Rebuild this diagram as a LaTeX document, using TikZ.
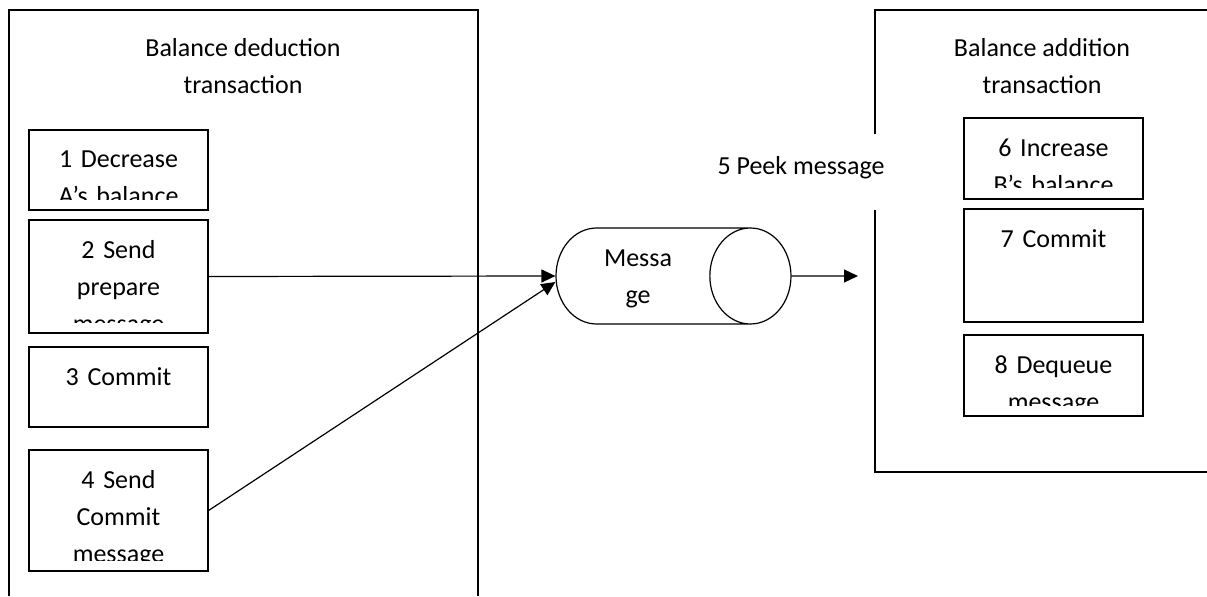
\documentclass[tikz,border=0pt]{standalone}
\usepackage{fontspec}
\setmainfont{Carlito}
\usetikzlibrary{
  shapes.geometric,
  arrows.meta,
  positioning
}
\tikzset{
  txtfont/.style={font=\fontsize{13}{18.5}\selectfont},
  frame/.style={line width=0.6pt},
  stepbox/.style={rectangle,draw,line width=0.6pt,minimum width=89.5pt,inner sep=0pt},
  steptext/.style={txtfont,text width=86pt,align=center,anchor=north,inner sep=0pt,
    minimum width=0pt,minimum height=0pt,draw=none},
  titletext/.style={txtfont,align=center,anchor=north,inner sep=0pt},
  queuenode/.style={cylinder,draw,line width=0.6pt,aspect=1.38,minimum height=117.5pt,
    minimum width=48pt,inner sep=0pt,text height=8.4pt,text depth=21pt},
  arr/.style={-{Triangle[length=7pt,width=6.5pt]},line width=0.6pt}
}

\begin{document}
\begin{tikzpicture}[x=0.5pt,y=0.5pt]
  \useasboundingbox (0,0) rectangle (1207,596);

  % Transaction frames (cut off at the page edge)
  \draw[frame] (9,0) -- (9,586) -- (478,586) -- (478,0);
  \draw[frame] (1207,586) -- (875,586) -- (875,124) -- (1207,124);
  \node[titletext] (dedtitle) at (243,557.7) {Balance deduction\\transaction};
  \node[titletext] (addtitle) at (1042,557.7) {Balance addition\\transaction};

  % Steps, text clipped to the box
  \foreach \nm/\xc/\yc/\hgt/\txt in {
    dec/118.5/426/80/{1 Decrease\\A’s balance},
    send/118.5/319.5/113/{2 Send\\prepare\\message},
    commita/118.5/209/80/{3 Commit},
    sendc/118.5/85.5/121/{4 Send\\Commit\\message},
    inc/1053.5/437.5/81/{6 Increase\\B’s balance},
    commitb/1053.5/330.5/113/{7 Commit},
    deq/1053.5/220.5/81/{8 Dequeue\\message}
  }{
    \node[stepbox,minimum height=\hgt*0.5pt,path picture={
        \clip ([yshift=5.5pt]path picture bounding box.south west)
          rectangle (path picture bounding box.north east);
        \node[steptext] (\nm-txt) at ([yshift=-10pt]path picture bounding box.north) {\txt};
      }] (\nm) at (\xc,\yc) {};
  }

  % Queue
  \node[queuenode,anchor=shape center] (msg) at (673.5,320) {};
  \node[txtfont,align=center,inner sep=0pt] (msgtxt) at (638,317) {Messa\\ge};
  \coordinate (peekend) at (858,320);

  \draw[arr] (send.east) -- (msg.west);
  \draw[arr] (sendc.east) -- ([yshift=-3pt]msg.west);
  \draw[arr] (msg.east) -- (peekend);

  % Label over the frame border
  \node[txtfont,fill=white,inner sep=0pt,text height=20.25pt,text depth=17.75pt,anchor=base]
    (peek) at (801,421.5) {5 Peek message};

\end{tikzpicture}
\end{document}
